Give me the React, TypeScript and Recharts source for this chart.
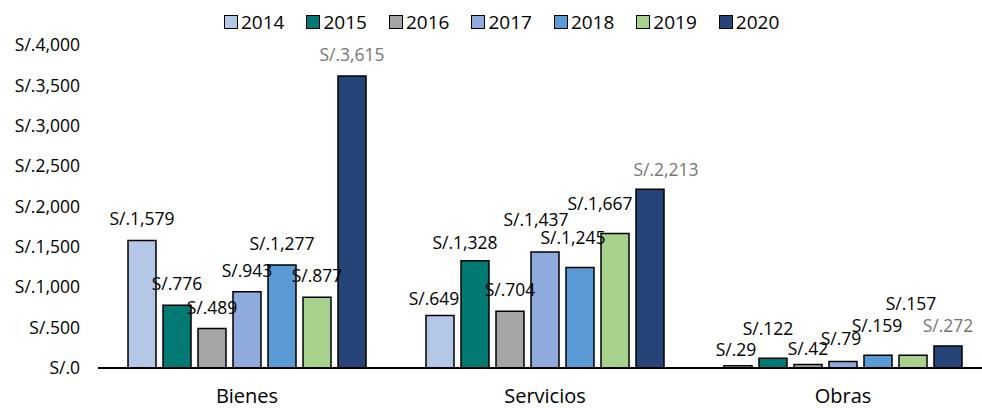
import React from "react";
import {
  BarChart,
  Bar,
  XAxis,
  YAxis,
  Legend,
  LabelList,
} from "recharts";

const categories = ["Bienes", "Servicios", "Obras"];
const years = ["2014", "2015", "2016", "2017", "2018", "2019", "2020"];

const v2014 = [1579, 649, 29];
const v2015 = [776, 1328, 122];
const v2016 = [489, 704, 42];
const v2017 = [943, 1437, 79];
const v2018 = [1277, 1245, 159];
const v2019 = [877, 1667, 157];
const v2020 = [3615, 2213, 272];

const yTicks = [0, 500, 1000, 1500, 2000, 2500, 3000, 3500, 4000];

const seriesValues = [v2014, v2015, v2016, v2017, v2018, v2019, v2020];

const colors = ["#B4C7E7", "#007A72", "#A5A5A5", "#8FAADC", "#5B9BD5", "#A9D18E", "#264478"];

// label nudges [dx, dy] per year, per category (Excel moved some to avoid overlap)
const nudges = [
  [[0, 0], [-6, 4], [-2, 5]],
  [[0, 0], [-10, 3], [-5, -8]],
  [[0, 0], [0, 0], [0, 5]],
  [[0, 0], [-9, -11], [-2, -2]],
  [[0, 0], [-7, -8], [-1, -8]],
  [[0, 0], [-15, -8], [-2, -30]],
  [[0, 0], [16, 2], [0, 1]],
];

const data = categories.map((c, i) => {
  const row: any = { name: c };
  years.forEach((y, s) => {
    row[y] = seriesValues[s][i];
  });
  return row;
});

const FONT = "'Open Sans', sans-serif";

const fmt = (v: number) => "S/." + Number(v).toLocaleString("en-US");

const makeLabel = (s: number) => (props: any) => {
  const { x, y, width, value, index } = props;
  const [dx, dy] = nudges[s][index] || [0, 0];
  return (
    <text
      x={x + width / 2 + dx}
      y={y - 22 + dy}
      textAnchor="middle"
      dominantBaseline="central"
      fontFamily={FONT}
      fontSize={17.5}
      fill={s === 6 ? "#767676" : "#000"}
    >
      {fmt(value)}
    </text>
  );
};

const LegendBox = () => (
  <div
    style={{
      display: "flex",
      justifyContent: "flex-start",
      paddingLeft: 224,
      paddingTop: 4,
      fontFamily: FONT,
      fontSize: 19,
      lineHeight: "26px",
      color: "#000",
    }}
  >
    {years.map((y, i) => (
      <div key={y} style={{ display: "flex", alignItems: "center", marginRight: 22 }}>
        <span
          style={{
            display: "inline-block",
            width: 12,
            height: 12,
            background: colors[i],
            border: "1px solid #000",
            marginRight: 3,
          }}
        />
        <span>{y}</span>
      </div>
    ))}
  </div>
);

export default function App() {
  return (
    <div
      style={{
        position: "fixed",
        left: 0,
        top: 0,
        width: 982,
        height: 408,
        overflow: "hidden",
        background: "#fff",
      }}
    >
      <BarChart
        width={1000}
        height={408}
        data={data}
        margin={{ top: 5, right: 8, left: 0, bottom: 0 }}
        barSize={28}
        barGap={7}
      >
        <Legend verticalAlign="top" height={40} content={<LegendBox />} />
        <XAxis
          dataKey="name"
          axisLine={{ stroke: "#000", strokeWidth: 2 }}
          tickLine={false}
          tickSize={0}
          tickMargin={21}
          height={40}
          tick={{ fill: "#000", fontSize: 20, fontFamily: FONT }}
        />
        <YAxis
          domain={[0, 4000]}
          ticks={yTicks}
          width={98}
          axisLine={false}
          tickLine={false}
          tickSize={0}
          tickMargin={18}
          tickFormatter={fmt}
          tick={{ fill: "#000", fontSize: 17.5, fontFamily: FONT }}
        />
        {years.map((y, s) => (
          <Bar
            key={y}
            dataKey={y}
            fill={colors[s]}
            stroke="#000"
            strokeWidth={1.5}
            isAnimationActive={false}
          >
            <LabelList dataKey={y} content={makeLabel(s)} />
          </Bar>
        ))}
      </BarChart>
    </div>
  );
}
